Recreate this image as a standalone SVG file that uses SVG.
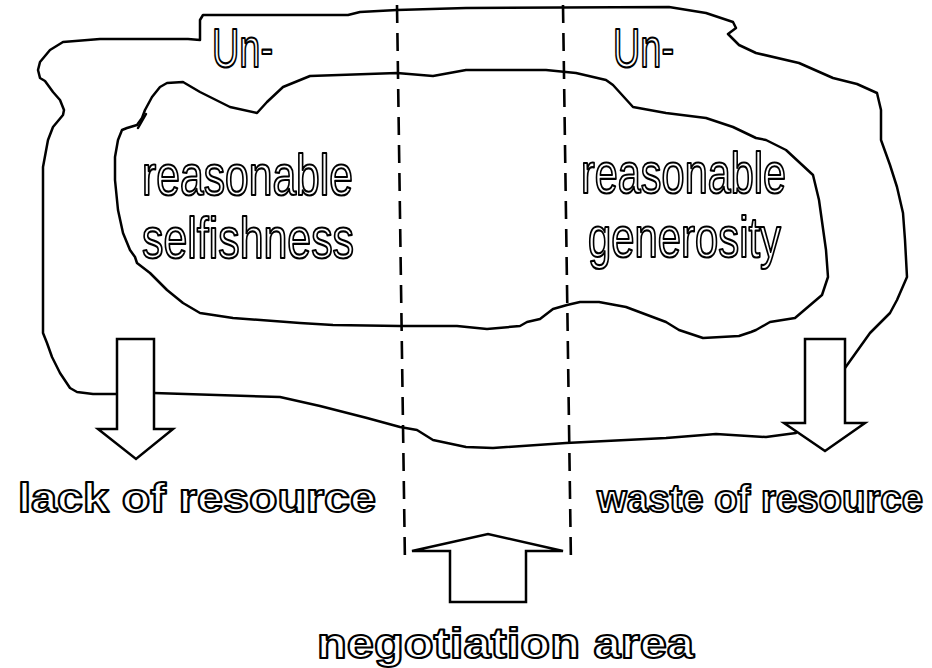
<svg xmlns="http://www.w3.org/2000/svg" width="932" height="668" viewBox="0 0 932 668">
<style>
.ln{fill:none;stroke:#000;stroke-width:2.5;stroke-linejoin:round;stroke-linecap:round}
.blk{fill:#fff;stroke:#000;stroke-width:2.5;stroke-linejoin:miter}
.dash{fill:none;stroke:#000;stroke-width:2.6;stroke-dasharray:18 10}
.t{font-family:"Liberation Sans",Arial,sans-serif;fill:#fff;stroke:#000;stroke-width:2.2;stroke-linejoin:round}
.tb{font-family:"Liberation Sans",Arial,sans-serif;font-weight:bold;fill:#fff;stroke:#000;stroke-width:2;stroke-linejoin:round}
</style>
<rect width="932" height="668" fill="#fff"/>
<g id="outer-region">
<path class="ln" d="M 845,368 L 870,333 L 890,313 L 897,300 L 907,277 L 905,240 L 903,213 L 897,187 L 890,165 L 881,140 L 881,110 L 877,93 L 857,84 L 833,78 L 799,63 L 756,53 L 739,45 L 728,34 L 736,28 L 733,22 L 706,13 L 669,7 L 466,8 L 397,10 L 360,12 L 348,15 L 203,15 L 200,20 L 200,40 L 188,39 L 100,39 L 63,42 L 50,50 L 40,62 L 38,70 L 40,78 L 45,81 L 53,92 L 60,100 L 64,110 L 63,115 L 53,127 L 48,140 L 43,167 L 43,333 L 47,343 L 52,357 L 60,373 L 70,388 L 77,392 L 93,394 L 117,394"/>
<path class="ln" d="M 154,393 L 280,397 L 320,406 L 367,418 L 400,427 L 417,430 L 433,440 L 466,447 L 493,448 L 566,443 L 666,438 L 716,434 L 766,437 L 796,433"/>
</g>
<g id="inner-region">
<path class="ln" d="M 310,76 L 397,73 L 433,76 L 466,70 L 546,70 L 576,73 L 606,80 L 613,85 L 633,107 L 666,113 L 706,118 L 733,127 L 756,138 L 766,140 L 786,150 L 813,175 L 819,200 L 826,250 L 828,277 L 822,295 L 795,318 L 770,322 L 756,330 L 751,332 L 739,336 L 703,338 L 679,330 L 666,322 L 626,307 L 599,302 L 580,302 L 567,305 L 553,309 L 540,319 L 527,322 L 520,326 L 487,329 L 457,326 L 400,326 L 333,325 L 300,323 L 233,318 L 200,313 L 183,303 L 167,290 L 150,273 L 137,263 L 135,257 L 130,250 L 123,233 L 118,210 L 115,180 L 115,157 L 118,140 L 122,130 L 127,128 L 137,125 L 142,118 L 145,110 L 152,97 L 160,87 L 167,83 L 183,82 L 200,92 L 230,107 L 257,113 L 267,102 L 283,87 Z"/>
<path class="ln" d="M 146,114 L 138,128"/>
</g>
<g id="negotiation-bounds">
<path class="dash" d="M 397,5 L 405,565"/>
<path class="dash" d="M 563,5 L 571,565"/>
</g>
<g id="connectors">
<path id="arrow-lack" class="blk" d="M 117,339 L 154,339 L 154,429 L 173,429 L 136,459 L 98,429 L 117,429 Z"/>
<path id="arrow-waste" class="blk" d="M 805,339 L 845,339 L 845,423 L 865,423 L 825,451 L 784,423 L 805,423 Z"/>
<path id="arrow-negotiation" class="blk" d="M 450,602 L 526,602 L 526,551 L 563,551 L 488,534 L 412,551 L 450,551 Z"/>
</g>
<g id="label-un-left"><text class="t" x="212" y="67" font-size="56" textLength="61" lengthAdjust="spacingAndGlyphs">Un-</text></g>
<g id="label-un-right"><text class="t" x="613" y="67" font-size="56" textLength="61" lengthAdjust="spacingAndGlyphs">Un-</text></g>
<g id="node-selfishness">
<text class="t" x="142" y="195" font-size="57" textLength="211" lengthAdjust="spacingAndGlyphs">reasonable</text>
<text class="t" x="142" y="258" font-size="57" textLength="212" lengthAdjust="spacingAndGlyphs">selfishness</text>
</g>
<g id="node-generosity">
<text class="t" x="581" y="193" font-size="57" textLength="205" lengthAdjust="spacingAndGlyphs">reasonable</text>
<text class="t" x="588" y="257" font-size="57" textLength="193" lengthAdjust="spacingAndGlyphs">generosity</text>
</g>
<g id="node-lack"><text class="tb" x="18" y="512" font-size="41" textLength="358" lengthAdjust="spacingAndGlyphs">lack of resource</text></g>
<g id="node-waste"><text class="tb" x="597" y="512" font-size="38" textLength="326" lengthAdjust="spacingAndGlyphs">waste of resource</text></g>
<g id="node-negotiation"><text class="tb" x="317" y="658" font-size="43" textLength="377" lengthAdjust="spacingAndGlyphs">negotiation area</text></g>
</svg>
